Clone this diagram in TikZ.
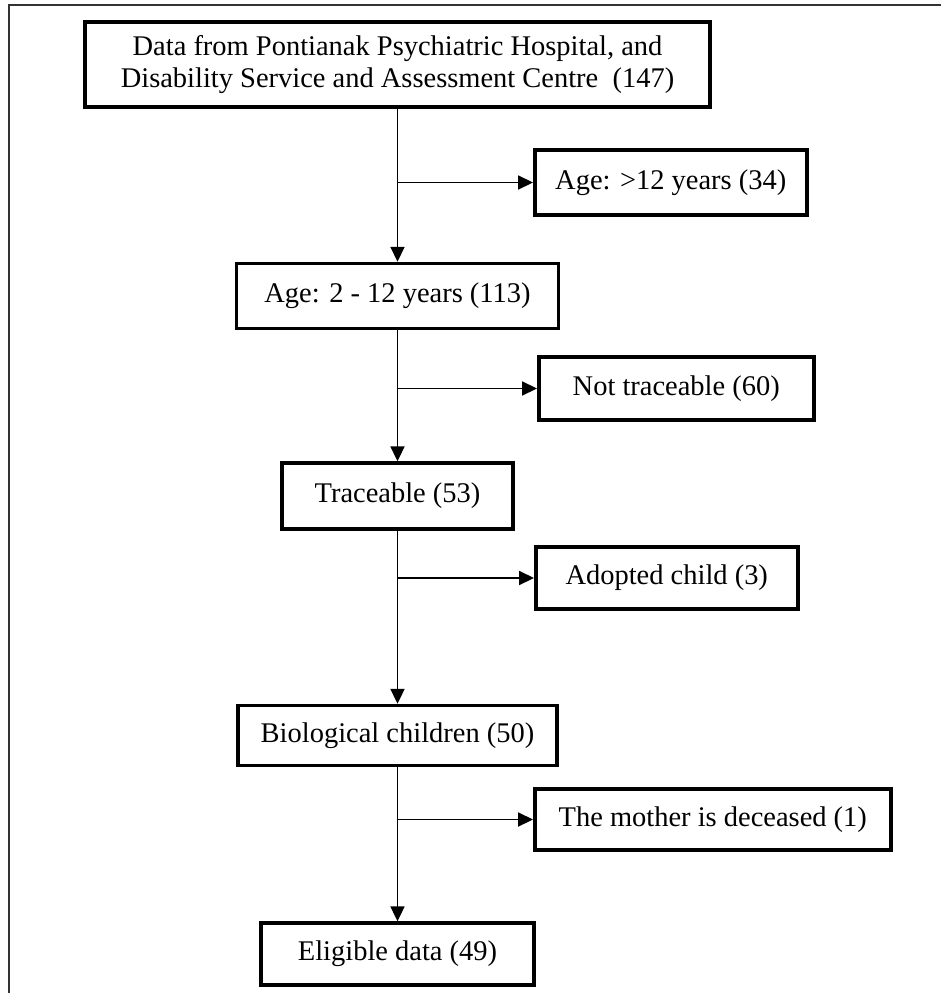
\documentclass[tikz,border=0pt]{standalone}
\usepackage{fontspec}
\setmainfont{Liberation Serif}
\usepackage{tikz}
\usetikzlibrary{
    arrows.meta,
    positioning
}

\begin{document}
\begin{tikzpicture}[
    box/.style={rectangle, draw, line width=2pt, align=center, font=\fontsize{16.2}{18.5}\selectfont},
    arrow/.style={-{Triangle[length=8.5pt, width=8pt]}, line width=0.9pt}
]
\useasboundingbox (0,0) rectangle (18.82,-19.86);

% Frame (cut at right and bottom)
\draw[line width=1.3pt, black!80] (0.18,-19.86) -- (0.18,-0.1) -- (18.82,-0.1);

% Main column
\node[box, minimum width=12.5cm, minimum height=1.7cm] (source) at (7.95,-1.29) {Data from Pontianak Psychiatric Hospital, and\\Disability Service and Assessment Centre~ (147)};
\node[box, below=3.06cm of source, minimum width=6.44cm, minimum height=1.3cm] (age) {Age: 2 - 12 years (113)};
\node[box, below=2.62cm of age, minimum width=4.62cm, minimum height=1.32cm] (traceable) {Traceable (53)};
\node[box, below=3.46cm of traceable, minimum width=6.38cm, minimum height=1.2cm] (biological) {Biological children (50)};
\node[box, below=3.08cm of biological, minimum width=5.46cm, minimum height=1.24cm] (eligible) {Eligible data (49)};

\draw[arrow] (source) -- (age);
\draw[arrow] (age) -- (traceable);
\draw[arrow] (traceable) -- (biological);
\draw[arrow] (biological) -- (eligible);

% Excluded
\node[box, anchor=west, minimum width=5.44cm, minimum height=1.3cm] (older) at (10.66,-3.65) {Age: >12 years (34)};
\node[box, anchor=west, minimum width=5.5cm, minimum height=1.26cm] (untraced) at (10.74,-7.77) {Not traceable (60)};
\node[box, anchor=west, minimum width=5.24cm, minimum height=1.24cm] (adopted) at (10.68,-11.56) {Adopted child (3)};
\node[box, anchor=west, minimum width=7.12cm, minimum height=1.22cm] (deceased) at (10.66,-16.39) {The mother is deceased (1)};

\coordinate (j1) at (source |- older);
\coordinate (j2) at (age |- untraced);
\coordinate (j3) at (traceable |- adopted);
\coordinate (j4) at (biological |- deceased);

\draw[arrow] (j1) -- (older);
\draw[arrow] (j2) -- (untraced);
\draw[arrow] (j3) -- (adopted);
\draw[arrow] (j4) -- (deceased);

\end{tikzpicture}
\end{document}
